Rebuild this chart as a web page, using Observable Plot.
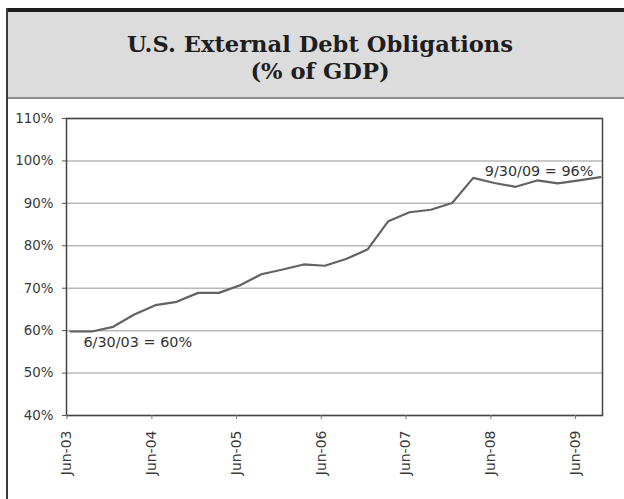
<!DOCTYPE html>
<html>
<head>
<meta charset="utf-8">
<script src="https://cdn.jsdelivr.net/npm/d3@7"></script>
<script src="https://cdn.jsdelivr.net/npm/@observablehq/plot@0.6"></script>
<style>
  html, body { margin: 0; padding: 0; background: #fff; }
  #wrap { position: relative; width: 624px; height: 499px; overflow: hidden; background: #fff; }
  #topbar { position: absolute; left: 6px; top: 8px; width: 620px; height: 4px; background: #1c1c1c; }
  #header { position: absolute; left: 6px; top: 12px; width: 628px; height: 85px; background: #dcdcdd; border-bottom: 2px solid #8c8c8c; }
  .t { position: absolute; left: 0; width: 628px; text-align: center; font-family: "DejaVu Serif", serif; font-weight: bold; font-size: 22.6px; color: #1e1e1e; line-height: 26px; white-space: nowrap; }
  #leftline { position: absolute; left: 6px; top: 8px; width: 1.5px; height: 491px; background: #3a3a3a; }
  #chart { position: absolute; left: 0; top: 100px; }
</style>
</head>
<body>
<div id="wrap">
  <div id="topbar"></div>
  <div id="header">
    <div class="t" id="t1" style="top:19px"></div>
    <div class="t" id="t2" style="top:46px"></div>
  </div>
  <div id="leftline"></div>
  <div id="chart"></div>
</div>
<script>
// ---- data ----
const titleLines = ["U.S. External Debt Obligations", "(% of GDP)"];
const quarters = ["2003-06-30","2003-09-30","2003-12-31","2004-03-31","2004-06-30","2004-09-30","2004-12-31","2005-03-31","2005-06-30","2005-09-30","2005-12-31","2006-03-31","2006-06-30","2006-09-30","2006-12-31","2007-03-31","2007-06-30","2007-09-30","2007-12-31","2008-03-31","2008-06-30","2008-09-30","2008-12-31","2009-03-31","2009-06-30","2009-09-30"];
const debtPct = [59.8, 59.8, 60.9, 63.8, 66.0, 66.8, 68.9, 68.9, 70.7, 73.3, 74.4, 75.6, 75.3, 76.9, 79.1, 85.8, 87.9, 88.5, 90.1, 96.0, 94.8, 93.9, 95.4, 94.7, 95.4, 96.2];
const yTicks = [40, 50, 60, 70, 80, 90, 100, 110];
const xTickDates = ["2003-06-15","2004-06-15","2005-06-15","2006-06-15","2007-06-15","2008-06-15","2009-06-15"];
const xTickLabels = ["Jun-03","Jun-04","Jun-05","Jun-06","Jun-07","Jun-08","Jun-09"];
const noteIndex = [0, 25];
const noteLabels = ["6/30/03 = 60%", "9/30/09 = 96%"];

document.getElementById("t1").textContent = titleLines[0];
document.getElementById("t2").textContent = titleLines[1];

const data = quarters.map((q, i) => ({date: new Date(q), value: debtPct[i]}));
const tickDates = xTickDates.map(d => new Date(d));
const labelByTime = new Map(tickDates.map((d, i) => [+d, xTickLabels[i]]));
const notes = noteIndex.map((k, j) => ({date: data[k].date, value: data[k].value, label: noteLabels[j]}));

const chart = Plot.plot({
  width: 624,
  height: 399,
  marginLeft: 66,
  marginRight: 22,
  marginTop: 18,
  marginBottom: 84,
  style: {fontFamily: "DejaVu Sans, sans-serif", fontSize: "13px", color: "#3a3a3a", background: "transparent", overflow: "visible"},
  x: {type: "utc", domain: [new Date("2003-06-13"), new Date("2009-10-09")]},
  y: {domain: [40, 110]},
  marks: [
    Plot.gridY(yTicks, {stroke: "#b8b8b8", strokeOpacity: 1, strokeWidth: 1.5}),
    Plot.frame({stroke: "#444", strokeWidth: 1.5}),
    Plot.line(data, {x: "date", y: "value", stroke: "#626262", strokeWidth: 2.2, curve: "linear"}),
    Plot.axisY(yTicks, {tickFormat: d => d + "%", tickSize: 4, tickPadding: 9, fontSize: 13.4, fill: "#3a3a3a", stroke: "#555", label: null}),
    Plot.axisX(tickDates, {tickFormat: d => labelByTime.get(+d), tickRotate: -90, tickSize: 4, tickPadding: 11, fontSize: 14, fill: "#3a3a3a", stroke: "#777", label: null}),
    Plot.text(notes.slice(0, 1), {x: "date", y: "value", text: "label", textAnchor: "start", dx: 13, dy: 11, fontSize: 14.4, fill: "#333"}),
    Plot.text(notes.slice(1), {x: "date", y: "value", text: "label", textAnchor: "end", dx: -7, dy: -6, fontSize: 14.4, fill: "#333"})
  ]
});
document.getElementById("chart").appendChild(chart);
</script>
</body>
</html>
